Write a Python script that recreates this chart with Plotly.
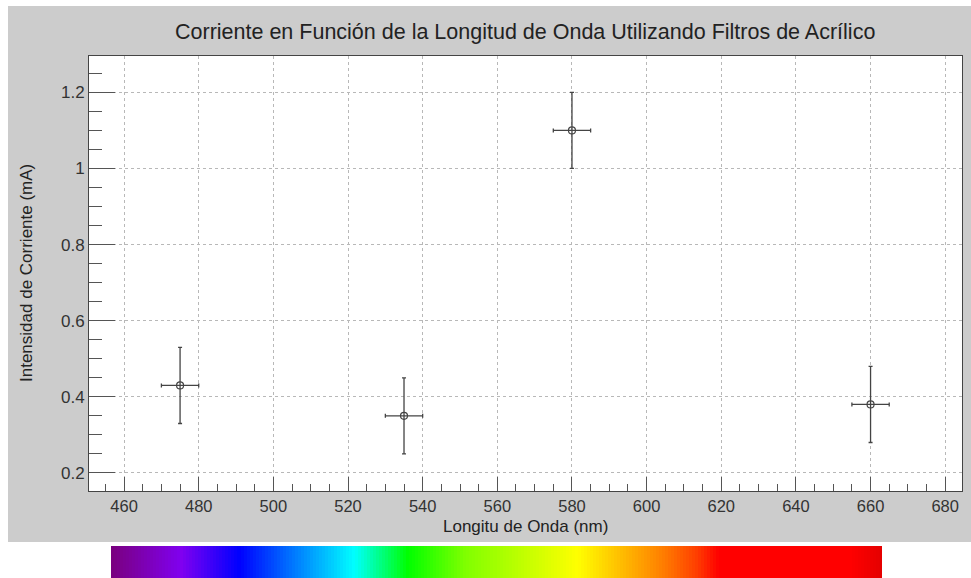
import plotly.graph_objects as go

# ---- data ----
wavelength = [475, 535, 580, 660]          # nm
current = [0.43, 0.35, 1.10, 0.38]         # mA
wavelength_err = [5, 5, 5, 5]
current_err = [0.10, 0.10, 0.10, 0.10]

x_ticks = [460, 480, 500, 520, 540, 560, 580, 600, 620, 640, 660, 680]
y_ticks = [0.2, 0.4, 0.6, 0.8, 1.0, 1.2]
y_tick_labels = ["0.2", "0.4", "0.6", "0.8", "1", "1.2"]

# spectrum colour strip (decorative)
spectrum_stops = [
    (0.000, "#7a0080"), (0.090, "#8000f0"), (0.165, "#0000ff"),
    (0.240, "#0080ff"), (0.315, "#00ffff"), (0.385, "#00ff00"),
    (0.460, "#80ff00"), (0.605, "#ffff00"), (0.715, "#ff8000"),
    (0.760, "#ff4000"), (0.790, "#ff0000"), (0.960, "#ff0000"),
    (1.000, "#e60000"),
]
spectrum_cells = list(range(256))

W, H = 971, 578
L, R, T, B = 89, 9, 56, 0
pw, ph = W - L - R, H - T - B

def px_x(x):
    return (x - L) / pw

def px_y(y):
    return (H - B - y) / ph

fig = go.Figure()

fig.add_trace(go.Scatter(
    x=wavelength, y=current, mode="markers",
    marker=dict(symbol="circle-open", size=7, color="#444", line=dict(width=1.2)),
    error_x=dict(type="data", array=wavelength_err, color="#444", thickness=1.3, width=2),
    error_y=dict(type="data", array=current_err, color="#444", thickness=1.3, width=2),
    xaxis="x", yaxis="y", showlegend=False,
))

fig.add_trace(go.Heatmap(
    z=[spectrum_cells], colorscale=[[s, c] for s, c in spectrum_stops],
    showscale=False, xaxis="x2", yaxis="y2", hoverinfo="skip",
))

font = "Liberation Sans, Arial, Helvetica, sans-serif"

fig.update_layout(
    width=W, height=H,
    margin=dict(l=L, r=R, t=T, b=B),
    paper_bgcolor="white", plot_bgcolor="white",
    font=dict(family=font, color="#333"),
    xaxis=dict(
        domain=[0, 1], range=[450.6, 684.5], anchor="y",
        tickvals=x_ticks, ticks="inside", ticklen=14, tickcolor="#555", tickwidth=1,
        minor=dict(dtick=5, tick0=450, ticks="inside", ticklen=7, tickcolor="#555", showgrid=False),
        showgrid=True, gridcolor="#b8b8b8", griddash="dot", gridwidth=1,
        showline=True, linecolor="#444", linewidth=1, mirror=True,
        zeroline=False, tickfont=dict(size=16.5, color="#333"),
    ),
    yaxis=dict(
        domain=[px_y(491), 1], range=[0.1526, 1.2955], anchor="x",
        tickvals=y_ticks, ticktext=y_tick_labels, ticks="inside", ticklen=26,
        tickcolor="#555", tickwidth=1,
        minor=dict(dtick=0.05, tick0=0, ticks="inside", ticklen=13, tickcolor="#555", showgrid=False),
        showgrid=True, gridcolor="#b8b8b8", griddash="dot", gridwidth=1,
        showline=True, linecolor="#444", linewidth=1, mirror=True,
        zeroline=False, tickfont=dict(size=17, color="#333"),
    ),
    xaxis2=dict(domain=[px_x(111), px_x(882)], anchor="y2", visible=False,
                range=[-0.5, len(spectrum_cells) - 0.5]),
    yaxis2=dict(domain=[0, px_y(546)], anchor="x2", visible=False, range=[-0.5, 0.5]),
    shapes=[
        dict(type="rect", xref="paper", yref="paper", layer="below",
             x0=px_x(8), x1=px_x(971), y0=px_y(542), y1=px_y(6),
             fillcolor="#cccccc", line=dict(width=0)),
        dict(type="rect", xref="paper", yref="paper", layer="below",
             x0=0, x1=1, y0=px_y(491), y1=1,
             fillcolor="white", line=dict(width=0)),
    ],
    annotations=[
        dict(text="Corriente en Función de la Longitud de Onda Utilizando Filtros de Acrílico",
             xref="paper", yref="paper", x=px_x(525), y=px_y(32),
             xanchor="center", yanchor="middle", showarrow=False,
             font=dict(size=21.5, color="#222", family=font)),
        dict(text="Longitu de Onda (nm)",
             xref="paper", yref="paper", x=px_x(525), y=px_y(526),
             xanchor="center", yanchor="middle", showarrow=False,
             font=dict(size=17, color="#222", family=font)),
        dict(text="Intensidad de Corriente (mA)", textangle=-90,
             xref="paper", yref="paper", x=px_x(26), y=px_y(273),
             xanchor="center", yanchor="middle", showarrow=False,
             font=dict(size=17, color="#222", family=font)),
    ],
)

fig.write_html("out.html")
